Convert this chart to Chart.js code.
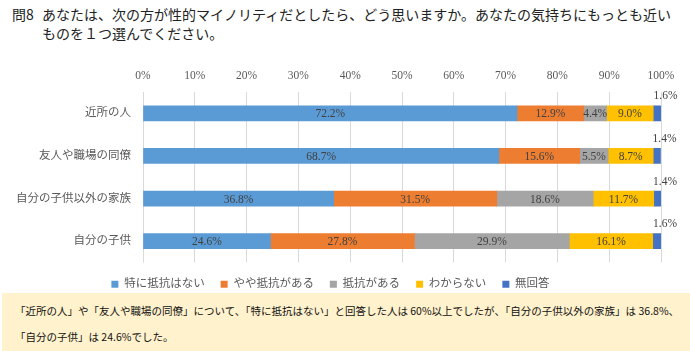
<!DOCTYPE html>
<html>
<head>
<meta charset="utf-8">
<script src="https://cdn.jsdelivr.net/npm/chart.js@4"></script>
<style>
  body { margin: 0; width: 690px; height: 351px; background: #fff; position: relative; overflow: hidden; }
  .q { position: absolute; font-family: 'Noto Sans CJK JP', sans-serif; font-size: 14px; color: #222; line-height: 18px; white-space: nowrap; }
  #wrap { position: absolute; left: 0; top: 60px; width: 690px; height: 240px; }
  #note { position: absolute; left: 2px; top: 293px; width: 688px; height: 58px; background: #fff2cc; }
  .n { position: absolute; left: 13px; font-family: 'Noto Sans CJK JP', sans-serif; font-size: 10.5px; color: #111; white-space: nowrap; line-height: 14px; }
</style>
</head>
<body>
<div class="q" style="left:12px; top:5px;">問8</div>
<div class="q" style="left:42px; top:5px;">あなたは、次の方が性的マイノリティだとしたら、どう思いますか。あなたの気持ちにもっとも近い</div>
<div class="q" style="left:42px; top:24px;">ものを１つ選んでください。</div>
<div id="wrap"><canvas id="chart"></canvas></div>
<div id="note">
  <div class="n" style="top:11px;">「近所の人」や「友人や職場の同僚」について、「特に抵抗はない」と回答した人は 60%以上でしたが、「自分の子供以外の家族」は 36.8%、</div>
  <div class="n" style="top:37px;">「自分の子供」は 24.6%でした。</div>
</div>
<script>
var categories = ['近所の人', '友人や職場の同僚', '自分の子供以外の家族', '自分の子供'];
var seriesNames = ['特に抵抗はない', 'やや抵抗がある', '抵抗がある', 'わからない', '無回答'];
var noResistance = [72.2, 68.7, 36.8, 24.6];
var someResistance = [12.9, 15.6, 31.5, 27.8];
var resistance = [4.4, 5.5, 18.6, 29.9];
var dontKnow = [9.0, 8.7, 11.7, 16.1];
var noAnswer = [1.6, 1.4, 1.4, 1.6];
var colors = ['#5b9bd5', '#ed7d31', '#a5a5a5', '#ffc000', '#4472c4'];

var font = "'Liberation Serif', 'Noto Sans CJK JP', serif";

// value labels: inside the bars, the last series above the bar end
var labelPlugin = {
    id: 'barLabels',
    afterDatasetsDraw: function (chart) {
        var ctx = chart.ctx;
        ctx.save();
        ctx.font = '11.5px ' + font;
        ctx.fillStyle = '#404040';
        ctx.textAlign = 'center';
        ctx.textBaseline = 'middle';
        chart.data.datasets.forEach(function (ds, i) {
            var meta = chart.getDatasetMeta(i);
            meta.data.forEach(function (bar, j) {
                var txt = ds.data[j].toFixed(1) + '%';
                if (i == chart.data.datasets.length - 1) {
                    ctx.fillText(txt, bar.x + 4, bar.y - 17);
                } else {
                    ctx.fillText(txt, (bar.x + bar.base) / 2, bar.y + 1);
                }
            });
        });
        ctx.restore();
    }
};

var allData = [noResistance, someResistance, resistance, dontKnow, noAnswer];

var chart = new Chart(document.getElementById('chart'), {
    type: 'bar',
    data: {
        labels: categories,
        datasets: seriesNames.map(function (name, i) {
            return {
                label: name,
                data: allData[i],
                backgroundColor: colors[i],
                barThickness: 15
            };
        })
    },
    options: {
        indexAxis: 'y',
        responsive: true,
        maintainAspectRatio: false,
        animation: false,
        layout: { padding: { left: 0, right: 29, top: 0, bottom: 0 } },
        scales: {
            x: {
                position: 'top',
                stacked: true,
                min: 0,
                max: 100,
                ticks: {
                    stepSize: 10,
                    padding: 9,
                    color: '#595959',
                    font: { family: font, size: 11.5 },
                    callback: function (v) { return v + '%'; }
                },
                grid: { color: '#d9d9d9', drawTicks: false },
                border: { display: false },
                afterFit: function (scale) { scale.height = 32; }
            },
            y: {
                stacked: true,
                ticks: {
                    padding: 12,
                    color: '#595959',
                    font: { family: font, size: 11.5 }
                },
                grid: { display: false, drawTicks: false },
                border: { display: false },
                afterFit: function (scale) { scale.width = 143; }
            }
        },
        plugins: {
            legend: {
                position: 'bottom',
                labels: {
                    boxWidth: 7,
                    boxHeight: 7,
                    padding: 16,
                    color: '#595959',
                    font: { family: font, size: 11.5 }
                }
            },
            tooltip: { enabled: false }
        }
    },
    plugins: [labelPlugin]
});
</script>
</body>
</html>
